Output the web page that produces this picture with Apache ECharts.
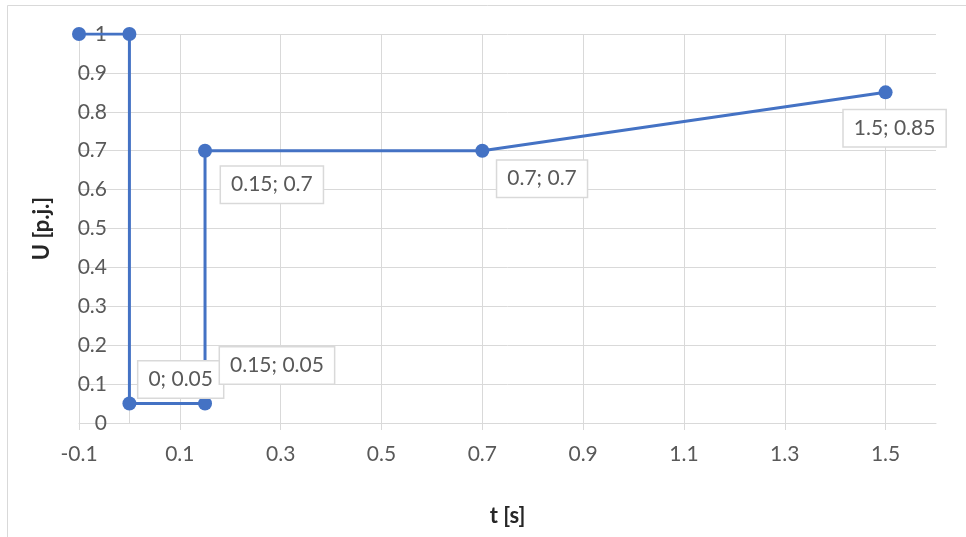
<!DOCTYPE html>
<html>
<head>
<meta charset="utf-8">
<script src="https://cdn.jsdelivr.net/npm/echarts@6/dist/echarts.min.js"></script>
<style>
html,body{margin:0;padding:0;background:#fff;}
#chart{width:966px;height:537px;}
</style>
</head>
<body>
<div id="chart"></div>
<script>
// ---- data ----
const tValues = [-0.1, 0, 0, 0.15, 0.15, 0.7, 1.5];
const uValues = [1, 1, 0.05, 0.05, 0.7, 0.7, 0.85];
const xTickLabels = ['-0.1', '0.1', '0.3', '0.5', '0.7', '0.9', '1.1', '1.3', '1.5'];
const yTickLabels = ['0', '0.1', '0.2', '0.3', '0.4', '0.5', '0.6', '0.7', '0.8', '0.9', '1'];
const xTitle = 't [s]';
const yTitle = 'U [p.j.]';

// ---- label placement (style only) ----
const labelPlacement = {
  2: { position: 'right', offset: [-3, -24] },
  3: { position: 'right', offset: [3, -38] },
  4: { position: 'right', offset: [4, 34] },
  5: { position: 'right', offset: [3, 28] },
  6: { position: 'inside', offset: [9, 36] }
};

const FONT = 'Lato';
const TXT = '#595959';
const GRID = '#d9d9d9';
const BLUE = '#4472C4';

const seriesData = tValues.map((t, i) => {
  const item = { value: [t, uValues[i]] };
  const p = labelPlacement[i];
  if (p) {
    item.label = {
      show: true,
      position: p.position,
      offset: p.offset,
      formatter: (prm) => prm.value[0] + '; ' + prm.value[1],
      color: TXT,
      fontFamily: FONT,
      fontSize: 21,
      lineHeight: 22,
      backgroundColor: '#fff',
      borderColor: GRID,
      borderWidth: 1.5,
      padding: [7, 10, 7, 10]
    };
  }
  return item;
});

const chart = echarts.init(document.getElementById('chart'), null, { renderer: 'canvas' });
chart.setOption({
  animation: false,
  backgroundColor: '#fff',
  graphic: [{
    type: 'rect',
    shape: { x: 7.5, y: 5.5, width: 1000, height: 600 },
    style: { fill: 'none', stroke: GRID, lineWidth: 1 },
    silent: true, z: -10
  }],
  grid: { left: 79, right: 30, top: 34, bottom: 114, containLabel: false },
  xAxis: {
    type: 'value',
    min: -0.1, max: 1.6, interval: 0.2,
    name: xTitle,
    nameLocation: 'middle',
    nameGap: 82,
    nameTextStyle: { fontFamily: FONT, fontSize: 22, fontWeight: 'bold', color: '#262626' },
    axisLine: { show: true, onZero: false, lineStyle: { color: GRID, width: 1 } },
    axisTick: { show: true, length: 7, lineStyle: { color: GRID } },
    axisLabel: {
      margin: 21,
      color: TXT, fontFamily: FONT, fontSize: 21,
      showMaxLabel: false,
      formatter: (v) => {
        const s = (Math.round(v * 10) / 10).toString();
        return xTickLabels.indexOf(s) >= 0 ? s : '';
      }
    },
    splitLine: { show: true, showMaxLine: false, lineStyle: { color: GRID, width: 1 } }
  },
  yAxis: {
    type: 'value',
    min: 0, max: 1, interval: 0.1,
    offset: -28,
    name: yTitle,
    nameLocation: 'middle',
    nameGap: 54,
    nameRotate: 90,
    nameTextStyle: { fontFamily: FONT, fontSize: 22, fontWeight: 'bold', color: '#262626' },
    axisLine: { show: false },
    axisTick: { show: false },
    axisLabel: {
      margin: 0,
      color: TXT, fontFamily: FONT, fontSize: 21,
      formatter: (v) => {
        const s = (Math.round(v * 10) / 10).toString();
        return yTickLabels.indexOf(s) >= 0 ? s : '';
      }
    },
    splitLine: { show: true, lineStyle: { color: GRID, width: 1 } }
  },
  series: [
    {
      type: 'line',
      data: [],
      z: 0,
      silent: true,
      markLine: {
        z: 0,
        silent: true,
        symbol: 'none',
        label: { show: false },
        lineStyle: { color: GRID, type: 'solid', width: 1 },
        data: [{ xAxis: 0 }]
      }
    },
    {
      type: 'line',
      z: 3,
      data: seriesData,
      symbol: 'circle',
      symbolSize: 14,
      itemStyle: { color: BLUE },
      lineStyle: { color: BLUE, width: 3 },
      label: { show: false }
    }
  ]
});
</script>
</body>
</html>
